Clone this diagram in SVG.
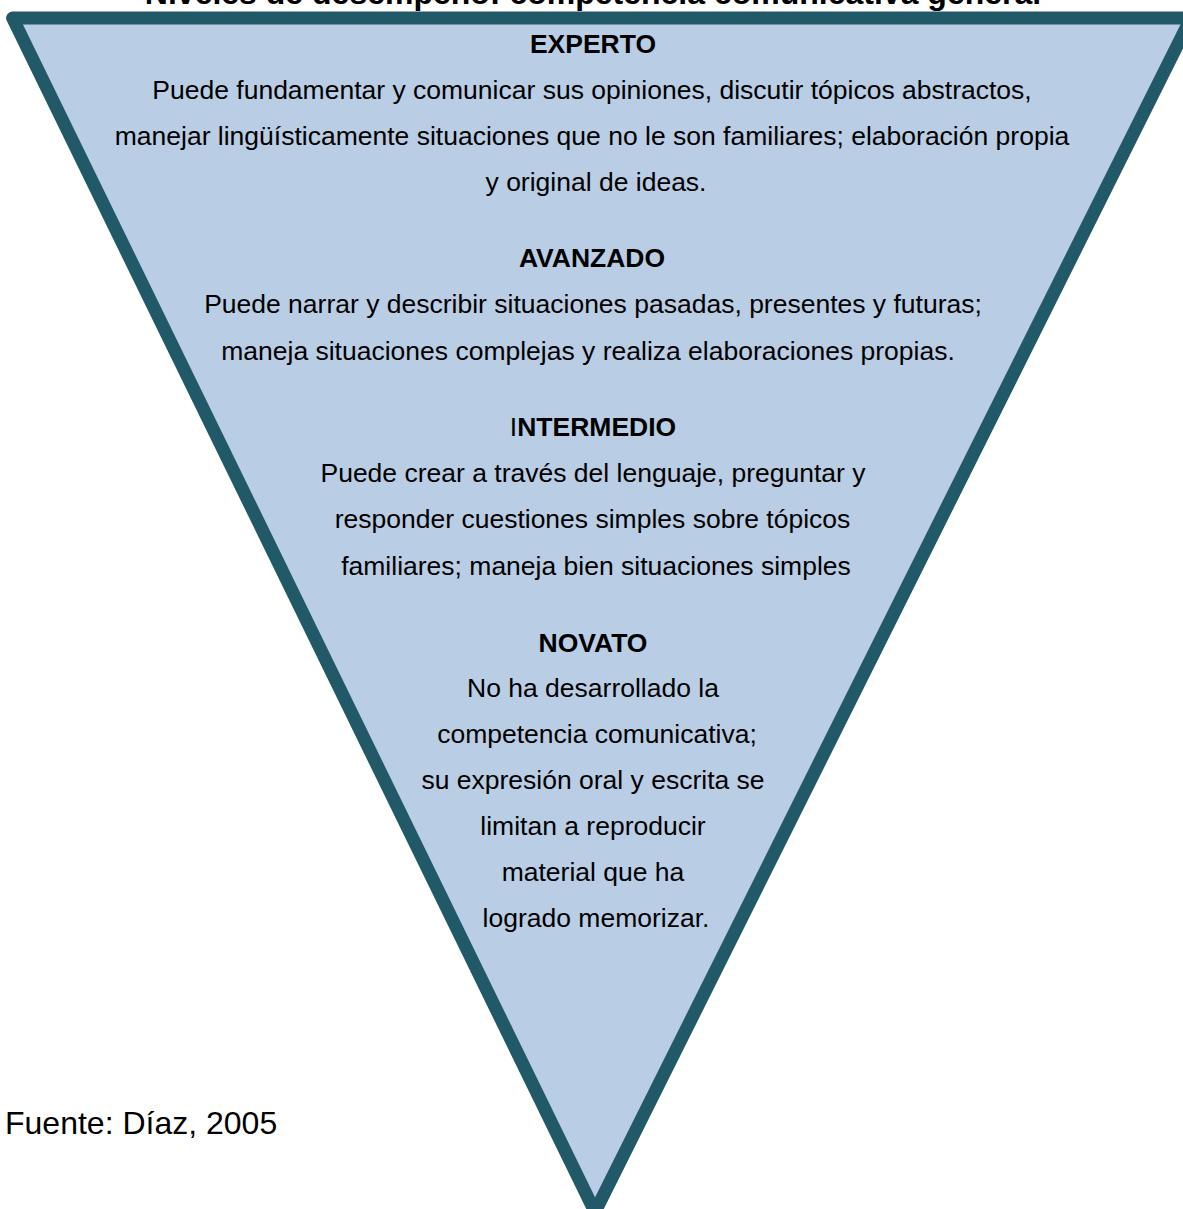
<svg xmlns="http://www.w3.org/2000/svg" width="1183" height="1209" viewBox="0 0 1183 1209">
  <style>
    .t { font-family: "Liberation Sans", Arial, sans-serif; font-size: 26.5px; fill: #000; text-anchor: middle; }
    .h { font-weight: bold; }
    .big { font-family: "Liberation Sans", Arial, sans-serif; font-size: 32px; fill: #000; }
    .tri { fill: #B9CDE5; stroke: #215968; stroke-width: 13; stroke-linejoin: round; }
  </style>
  <rect x="0" y="0" width="1183" height="1209" fill="#ffffff"/>
  <text class="big" x="593" y="4" text-anchor="middle" font-weight="bold">Niveles de desempeño: competencia comunicativa general</text>
  <g id="triangle">
    <path class="tri" d="M12.6,18 L1191,18 L595,1212 Z"/>
  </g>
  <g id="connectors"></g>
  <g id="experto">
    <text class="t h" x="593" y="53">EXPERTO</text>
    <text class="t" x="592" y="99">Puede fundamentar y comunicar sus opiniones, discutir tópicos abstractos,</text>
    <text class="t" x="592" y="145">manejar lingüísticamente situaciones que no le son familiares; elaboración propia</text>
    <text class="t" x="596" y="191">y original de ideas.</text>
  </g>
  <g id="avanzado">
    <text class="t h" x="592" y="267">AVANZADO</text>
    <text class="t" x="593" y="313">Puede narrar y describir situaciones pasadas, presentes y futuras;</text>
    <text class="t" x="588" y="360">maneja situaciones complejas y realiza elaboraciones propias.</text>
  </g>
  <g id="intermedio">
    <text class="t h" x="593" y="436"><tspan font-weight="normal">I</tspan>NTERMEDIO</text>
    <text class="t" x="593" y="482">Puede crear a través del lenguaje, preguntar y</text>
    <text class="t" x="592.5" y="528">responder cuestiones simples sobre tópicos</text>
    <text class="t" x="596" y="575">familiares; maneja bien situaciones simples</text>
  </g>
  <g id="novato">
    <text class="t h" x="593" y="652">NOVATO</text>
    <text class="t" x="593" y="697">No ha desarrollado la</text>
    <text class="t" x="597" y="743">competencia comunicativa;</text>
    <text class="t" x="593" y="789">su expresión oral y escrita se</text>
    <text class="t" x="593" y="835">limitan a reproducir</text>
    <text class="t" x="593" y="881">material que ha</text>
    <text class="t" x="596" y="927">logrado memorizar.</text>
  </g>
  <g id="fuente">
    <text class="big" x="5" y="1134">Fuente: Díaz, 2005</text>
  </g>
</svg>
